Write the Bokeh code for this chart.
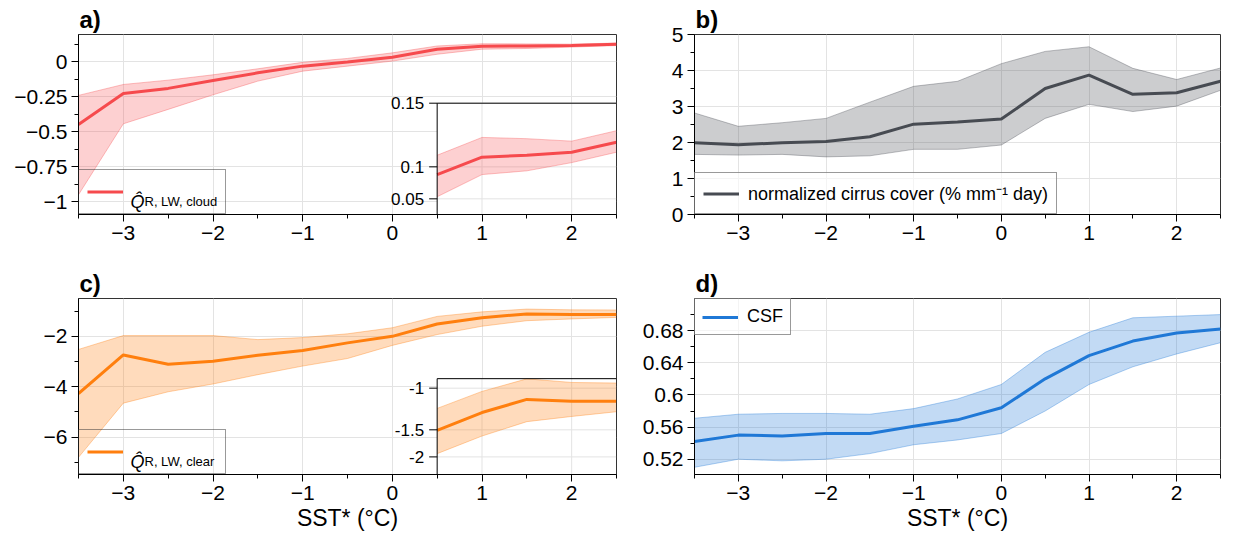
import numpy as np
from bokeh.plotting import figure
from bokeh.layouts import column, row
from bokeh.models import (FixedTicker, Range1d, LogScale, Legend, LegendItem, Label,
                          ColumnDataSource)
from bokeh.core.properties import value
from bokeh.embed import file_html
from bokeh.resources import INLINE

FONT = "Liberation Sans"

# ---------------- data ----------------
sst = [-3.5, -3.0, -2.5, -2.0, -1.5, -1.0, -0.5, 0.0, 0.5, 1.0, 1.5, 2.0, 2.5]

q_cloud = [-0.448, -0.226, -0.190, -0.133, -0.079, -0.031, -0.002, 0.033, 0.090, 0.111, 0.113, 0.116, 0.125]
q_cloud_hi = [-0.240, -0.162, -0.131, -0.093, -0.050, -0.004, 0.024, 0.064, 0.113, 0.129, 0.128, 0.126, 0.134]
q_cloud_lo = [-0.950, -0.443, -0.340, -0.236, -0.138, -0.067, -0.031, 0.005, 0.054, 0.090, 0.095, 0.105, 0.116]

cirrus = [1.99, 1.94, 1.99, 2.03, 2.16, 2.51, 2.57, 2.65, 3.50, 3.87, 3.34, 3.38, 3.70]
cirrus_hi = [2.82, 2.45, 2.55, 2.67, 3.12, 3.56, 3.70, 4.19, 4.53, 4.66, 4.06, 3.75, 4.07]
cirrus_lo = [1.67, 1.65, 1.67, 1.60, 1.63, 1.81, 1.81, 1.93, 2.67, 3.06, 2.86, 3.01, 3.45]

q_clear = [-4.27, -2.74, -3.11, -2.99, -2.75, -2.56, -2.26, -2.00, -1.51, -1.26, -1.11, -1.13, -1.13]
q_clear_hi = [-2.52, -1.97, -1.97, -1.97, -2.13, -2.05, -1.90, -1.66, -1.21, -1.03, -0.92, -0.95, -0.955]
q_clear_lo = [-6.80, -4.65, -4.20, -3.89, -3.52, -3.18, -2.88, -2.36, -1.93, -1.60, -1.38, -1.31, -1.25]

csf = [0.542, 0.550, 0.549, 0.552, 0.552, 0.561, 0.569, 0.584, 0.620, 0.649, 0.667, 0.677, 0.682]
csf_hi = [0.571, 0.576, 0.577, 0.577, 0.576, 0.583, 0.595, 0.613, 0.653, 0.678, 0.696, 0.698, 0.700]
csf_lo = [0.510, 0.520, 0.518, 0.520, 0.527, 0.538, 0.544, 0.552, 0.580, 0.613, 0.635, 0.651, 0.665]

x_ticks = [-3, -2, -1, 0, 1, 2]
x_tick_labels = ["\u22123", "\u22122", "\u22121", "0", "1", "2"]
x_minor = [-3.5, -2.5, -1.5, -0.5, 0.5, 1.5, 2.5]

a_ticks = [-1, -0.75, -0.5, -0.25, 0]
a_tick_labels = ["\u22121", "\u22120.75", "\u22120.5", "\u22120.25", "0"]
a_minor = [-0.875, -0.625, -0.375, -0.125, 0.125]

b_ticks = [0, 1, 2, 3, 4, 5]
b_tick_labels = ["0", "1", "2", "3", "4", "5"]
b_minor = [0.5, 1.5, 2.5, 3.5, 4.5]

c_ticks = [-6, -4, -2]
c_tick_labels = ["\u22126", "\u22124", "\u22122"]
c_minor = [-7, -5, -3, -1]

d_ticks = [0.52, 0.56, 0.60, 0.64, 0.68]
d_tick_labels = ["0.52", "0.56", "0.6", "0.64", "0.68"]
d_minor = [0.54, 0.58, 0.62, 0.66, 0.70]

inset_a_ticks = [0.15, 0.1, 0.05]
inset_a_labels = ["0.15", "0.1", "0.05"]
inset_c_ticks = [-1.0, -1.5, -2.0]
inset_c_labels = ["-1", "-1.5", "-2"]

RED, GRAY, ORANGE, BLUE = "#f64a4d", "#474b52", "#ff7f0e", "#1f78d6"
GRID = "#e3e3e3"


def make_fig(width, height, left, right, top, bottom, yr, title):
    p = figure(width=width, height=height, x_range=Range1d(-3.5, 2.5), y_range=Range1d(*yr),
               output_backend="svg", toolbar_location=None,
               min_border_left=left, min_border_right=right,
               min_border_top=top, min_border_bottom=bottom)
    p.background_fill_color = "white"
    p.border_fill_color = "white"
    p.outline_line_color = "#333333"
    p.outline_line_width = 1
    p.title.text = title
    p.title.text_font = FONT
    p.title.text_font_size = "24px"
    p.title.text_font_style = "bold"
    p.title.text_color = "black"
    p.title.align = "left"
    p.title.standoff = 4
    p.title.offset = 1
    for ax in (p.xaxis[0], p.yaxis[0]):
        ax.axis_line_color = "black"
        ax.major_tick_line_color = "black"
        ax.minor_tick_line_color = "black"
        ax.major_tick_in = 0
        ax.major_tick_out = 7
        ax.minor_tick_in = 0
        ax.minor_tick_out = 4
        ax.major_label_text_font = FONT
        ax.major_label_text_font_size = "21px"
        ax.major_label_text_color = "black"
        ax.major_label_standoff = 4
    p.xaxis.ticker = FixedTicker(ticks=x_ticks, minor_ticks=x_minor)
    p.xaxis.major_label_overrides = dict(zip(x_ticks, x_tick_labels))
    p.xgrid.grid_line_color = GRID
    p.ygrid.grid_line_color = GRID
    return p


def set_y(p, ticks, labels, minor):
    p.yaxis.ticker = FixedTicker(ticks=ticks, minor_ticks=minor)
    p.yaxis.major_label_overrides = dict(zip(ticks, labels))


def band_line(p, x, lo, hi, mid, color, alpha, **kw):
    p.varea(x=x, y1=lo, y2=hi, fill_color=color, fill_alpha=alpha, **kw)
    p.line(x, lo, line_color=color, line_alpha=0.35, line_width=1, **kw)
    p.line(x, hi, line_color=color, line_alpha=0.35, line_width=1, **kw)
    return p.line(x, mid, line_color=color, line_width=3, **kw)


def legend(p, label, loc, glyph_h, renderer, width=20, pad=8, bg_alpha=0.6):
    leg = Legend(items=[LegendItem(label=label, renderers=[renderer])], location=loc,
                 margin=0, padding=pad, spacing=0, glyph_width=36, glyph_height=glyph_h,
                 label_standoff=9, label_width=width, label_text_font=FONT,
                 label_text_font_size="18px", label_text_color="black",
                 border_line_color="#333333", border_line_width=1,
                 background_fill_color="white", background_fill_alpha=bg_alpha)
    p.add_layout(leg)


def math_label(p, x, y, sub):
    # "Q-hat" with its subscript, written next to the legend glyph
    p.add_layout(Label(x=x, y=y, x_offset=52, y_offset=13, text="Q\u0302", text_font=FONT,
                       text_font_size="18px", text_font_style="italic", text_color="black",
                       text_baseline="alphabetic", level="overlay"))
    p.add_layout(Label(x=x, y=y, x_offset=66, y_offset=13, text=sub, text_font=FONT,
                       text_font_size="13px", text_color="black",
                       text_baseline="alphabetic", level="overlay"))


def inset(p, x, lo, hi, mid, color, alpha, shift, rng, box_top, ticks, labels):
    # inset panel sharing the x scale, with its own (log-of-offset) y scale
    p.extra_y_ranges = {"inset": Range1d(start=rng[0], end=rng[1])}
    p.extra_y_scales = {"inset": LogScale()}
    t = lambda arr: (shift - np.asarray(arr, dtype=float)).tolist()
    x0, x1 = x[0], x[-1]
    p.quad(left=x0, right=x1, top=shift - box_top, bottom=rng[0], fill_color="white",
           line_color=None, y_range_name="inset")
    tt = t(ticks)
    p.segment(x0=[x0] * len(tt), x1=[x1] * len(tt), y0=tt, y1=tt, line_color=GRID,
              y_range_name="inset")
    vx = [v for v in x_ticks if x0 < v < x1]
    p.segment(x0=vx, x1=vx, y0=[rng[0]] * len(vx), y1=[shift - box_top] * len(vx),
              line_color=GRID, y_range_name="inset")
    band_line(p, x, t(lo), t(hi), t(mid), color, alpha, y_range_name="inset")
    p.quad(left=x0, right=x1, top=shift - box_top, bottom=rng[0], fill_alpha=0,
           line_color="black", line_width=1, y_range_name="inset")
    p.ray(x=[x0] * len(tt), y=tt, length=8, angle=np.pi, length_units="screen",
          line_color="black", line_width=1, y_range_name="inset")
    src = ColumnDataSource(dict(x=[x0] * len(tt), y=tt, text=labels))
    p.text(x="x", y="y", text="text", source=src, x_offset=-13, text_align="right",
           text_baseline="middle", text_font=value(FONT), text_font_size="17px",
           text_color="black", y_range_name="inset")


# ---------------- panel a ----------------
pa = make_fig(626, 254, 78, 10, 34, 40, (-1.091, 0.195), "a)")
set_y(pa, a_ticks, a_tick_labels, a_minor)
ra = band_line(pa, sst, q_cloud_lo, q_cloud_hi, q_cloud, RED, 0.26)
inset(pa, sst[8:], q_cloud_lo[8:], q_cloud_hi[8:], q_cloud[8:], RED, 0.26,
      0.1814, (0.1661, 0.01123), 0.15, inset_a_ticks, inset_a_labels)
legend(pa, " ", "bottom_left", 27, ra, width=85, bg_alpha=0.0)
math_label(pa, -3.5, -1.091, "R, LW, cloud")

# ---------------- panel b ----------------
pb = make_fig(596, 254, 68, 2, 34, 40, (0, 5), "b)")
set_y(pb, b_ticks, b_tick_labels, b_minor)
rb = band_line(pb, sst, cirrus_lo, cirrus_hi, cirrus, GRAY, 0.28)
legend(pb, "normalized cirrus cover (% mm\u207b\u00b9 day)", "bottom_left", 21, rb)

# ---------------- panel c ----------------
pc = make_fig(626, 284, 78, 10, 44, 64, (-7.48, -0.5), "c)")
set_y(pc, c_ticks, c_tick_labels, c_minor)
rc = band_line(pc, sst, q_clear_lo, q_clear_hi, q_clear, ORANGE, 0.28)
inset(pc, sst[8:], q_clear_lo[8:], q_clear_hi[8:], q_clear[8:], ORANGE, 0.28,
      -0.285, (2.1456, 0.2284), -0.9186, inset_c_ticks, inset_c_labels)
legend(pc, " ", "bottom_left", 27, rc, width=85, bg_alpha=0.0)
math_label(pc, -3.5, -7.48, "R, LW, clear")

# ---------------- panel d ----------------
pd = make_fig(596, 284, 68, 2, 44, 64, (0.501, 0.720), "d)")
set_y(pd, d_ticks, d_tick_labels, d_minor)
rd = band_line(pd, sst, csf_lo, csf_hi, csf, BLUE, 0.27)
legend(pd, "CSF", "top_left", 18, rd, pad=7)

for p in (pc, pd):
    p.xaxis.axis_label = "SST* (\u00b0C)"
    p.xaxis.axis_label_text_font = FONT
    p.xaxis.axis_label_text_font_size = "23px"
    p.xaxis.axis_label_text_font_style = "normal"
    p.xaxis.axis_label_text_color = "black"
    p.xaxis.axis_label_standoff = 2

layout = column(row(pa, pb), row(pc, pd))
open("out.html", "w").write(file_html(layout, INLINE))
